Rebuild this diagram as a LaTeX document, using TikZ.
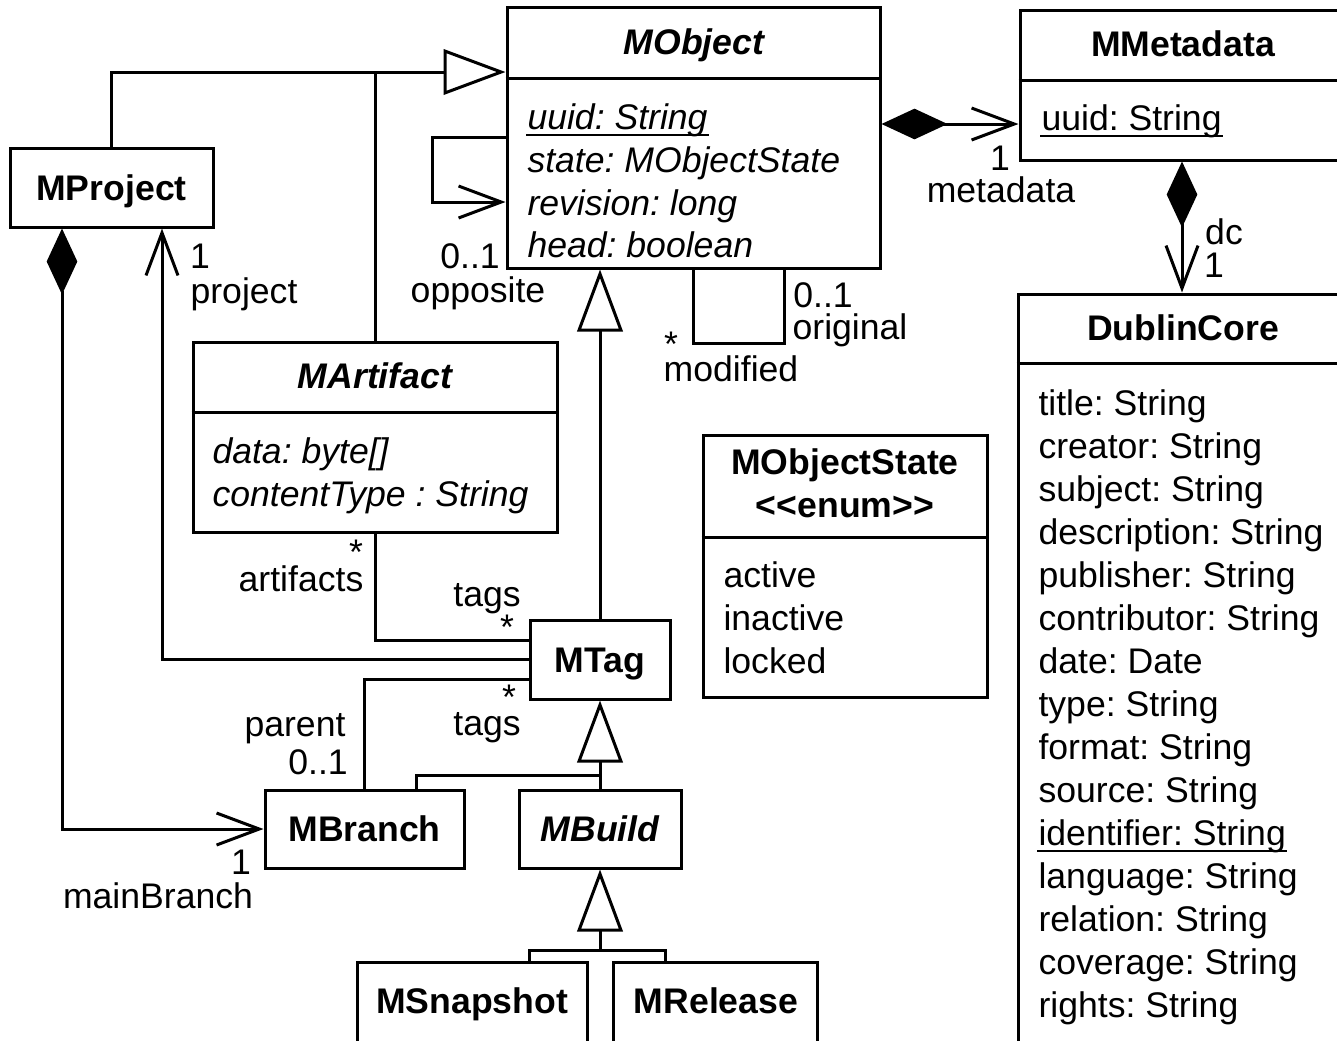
\documentclass[tikz,border=0pt]{standalone}
\usepackage{fontspec}
\setmainfont{Liberation Sans}
\usetikzlibrary{arrows.meta,fit}
\newcommand\umlfont{\fontsize{26.7pt}{32pt}\selectfont}
\frenchspacing

\begin{document}
\begin{tikzpicture}[x=0.75pt,y=-0.75pt,
  line width=2.25pt,
  box/.style={draw, inner sep=0pt, fit={#1}},
  txt/.style={inner sep=0pt, text height=19pt, text depth=0pt, font=\umlfont},
  lbl/.style={txt},
  star/.style={inner sep=0pt, text height=19pt, text depth=-9pt, font=\umlfont},
  bold/.style={txt, font=\umlfont\bfseries},
  bolditalic/.style={txt, font=\umlfont\bfseries\itshape},
  attr/.style={txt, anchor=west},
  iattr/.style={txt, anchor=west, font=\umlfont\itshape},
  uline/.style={line width=1.5pt},
  gen/.style={-{Triangle[open, length=46.5pt, width=34pt]}},
  nav/.style={-{Straight Barb[length=32pt, width=24pt]}},
  comp/.style={{Diamond[length=49.5pt, width=23pt]}-{Straight Barb[length=32pt, width=24pt]}},
]
\clip (0,0) rectangle (1337,1040);

% ---------- classes ----------
\node[box={(507,7)(880,268)}] (mobj) {};
\draw (mobj.west |- 0,78) -- (mobj.east |- 0,78);
\node[bolditalic] (mobjT) at (694,42) {MObject};
\node[iattr] (mobjA1) at (526,117) {uuid: String};
\draw[uline] ([yshift=-2.5pt]mobjA1.south west) -- ([yshift=-2.5pt]mobjA1.south east);
\node[iattr] (mobjA2) at (526,160) {state: MObjectState};
\node[iattr] (mobjA3) at (526,203) {revision: long};
\node[iattr] (mobjA4) at (526,245) {head: boolean};

\node[box={(1020,10)(1350,160)}] (mmeta) {};
\draw (mmeta.west |- 0,80) -- (mmeta.east |- 0,80);
\node[bold] (mmetaT) at (1183,44) {MMetadata};
\node[attr] (mmetaA1) at (1040,118) {uuid: String};
\draw[uline] ([yshift=-2.5pt]mmetaA1.south west) -- ([yshift=-2.5pt]mmetaA1.south east);

\node[box={(1018,294)(1350,1060)}] (dc) {};
\draw (dc.west |- 0,363) -- (dc.east |- 0,363);
\node[bold] (dcT) at (1183,328) {DublinCore};
\foreach \t [count=\i] in {title: String, creator: String, subject: String,
    description: String, publisher: String, contributor: String, date: Date,
    type: String, format: String, source: String, identifier: String,
    language: String, relation: String, coverage: String, rights: String}
  \node[attr] (dcA\i) at (1037,360+43*\i) {\t};
\draw[uline] ([yshift=-2.5pt]dcA11.south west) -- ([yshift=-2.5pt]dcA11.south east);

\node[box={(10,148)(213,227)}] (mproj) {};
\node[bold] (mprojT) at (mproj.center) {MProject};

\node[box={(193,342)(557,532)}] (mart) {};
\draw (mart.west |- 0,412) -- (mart.east |- 0,412);
\node[bolditalic] (martT) at (375,376) {MArtifact};
\node[iattr] (martA1) at (211,451) {data: byte[]};
\node[iattr] (martA2) at (211,494) {contentType : String};

\node[box={(703,435)(987,697)}] (mstate) {};
\draw (mstate.west |- 0,537) -- (mstate.east |- 0,537);
\node[bold] (mstateT) at (845,462) {MObjectState};
\node[bold] (mstateS) at (845,505) {<\kern0pt<enum>\kern0pt>};
\node[attr] (mstateA1) at (722,575) {active};
\node[attr] (mstateA2) at (722,618) {inactive};
\node[attr] (mstateA3) at (722,661) {locked};

\node[box={(530,620)(670,699)}] (mtag) {};
\node[bold] (mtagT) at (mtag.center) {MTag};

\node[box={(265,790)(464,868)}] (mbranch) {};
\node[bold] (mbranchT) at (mbranch.center) {MBranch};

\node[box={(519,790)(681,868)}] (mbuild) {};
\node[bolditalic] (mbuildT) at (mbuild.center) {MBuild};

\node[box={(357,962)(587,1060)}] (msnap) {};
\node[bold] (msnapT) at (472,1001) {MSnapshot};

\node[box={(613,962)(817,1060)}] (mrel) {};
\node[bold] (mrelT) at (716,1001) {MRelease};

% ---------- generalisations ----------
\draw[gen] (mproj.north) |- (mobj.west |- 0,72);
\draw (mart.north) -- (mart.north |- 0,72);
\draw[gen] (mtag.north) -- (mtag.north |- mobj.south);
\draw[gen] (mbuild.north) -- (mtag.south);
\draw (416,0 |- mbranch.north) |- (mbuild.north |- 0,775);
\coordinate (leafjoin) at (mbuild.south |- 0,950);
\draw[gen] (leafjoin) -- (mbuild.south);
\draw (529,0 |- msnap.north) |- (665,950) -- (665,0 |- mrel.north);

% ---------- associations ----------
\draw[nav] (mobj.west |- 0,137) -| (432,170) |- (mobj.west |- 0,202);
\draw (693,0 |- mobj.south) |- (784,343) -- (784,0 |- mobj.south);
\draw[comp] (mobj.east |- 0,124) -- (mmeta.west |- 0,124);
\draw[comp] (1182,0 |- mmeta.south) -- (1182,0 |- dc.north);
\draw (mart.south) |- (mtag.west |- 0,640);
\draw[nav] (mtag.west) -| (162,0 |- mproj.south);
\draw[comp] (62,0 |- mproj.south) |- (mbranch.west);
\draw (mtag.west |- 0,679) -| (mbranch.north);

% ---------- role names and multiplicities ----------
\node[lbl] (l1) at (200,256) {1};
\node[lbl] (l2) at (244,291) {project};
\node[lbl] (l3) at (470,256) {0..1};
\node[lbl] (l4) at (478,290) {opposite};
\node[star] (l5) at (671,344) {*};
\node[lbl] (l6) at (731,369) {modified};
\node[lbl] (l7) at (823,295) {0..1};
\node[lbl] (l8) at (850,327) {original};
\node[lbl] (l9) at (1000,158) {1};
\node[lbl] (l10) at (1001,190) {metadata};
\node[lbl] (l11) at (1224,232) {dc};
\node[lbl] (l12) at (1214,265) {1};
\node[star] (l13) at (356,552) {*};
\node[lbl] (l14) at (301,579) {artifacts};
\node[lbl] (l15) at (487,594) {tags};
\node[star] (l16) at (507,627) {*};
\node[star] (l17) at (509,697) {*};
\node[lbl] (l18) at (487,723) {tags};
\node[lbl] (l19) at (295,724) {parent};
\node[lbl] (l20) at (318,762) {0..1};
\node[lbl] (l21) at (241,862) {1};
\node[lbl] (l22) at (158,896) {mainBranch};
\end{tikzpicture}
\end{document}
